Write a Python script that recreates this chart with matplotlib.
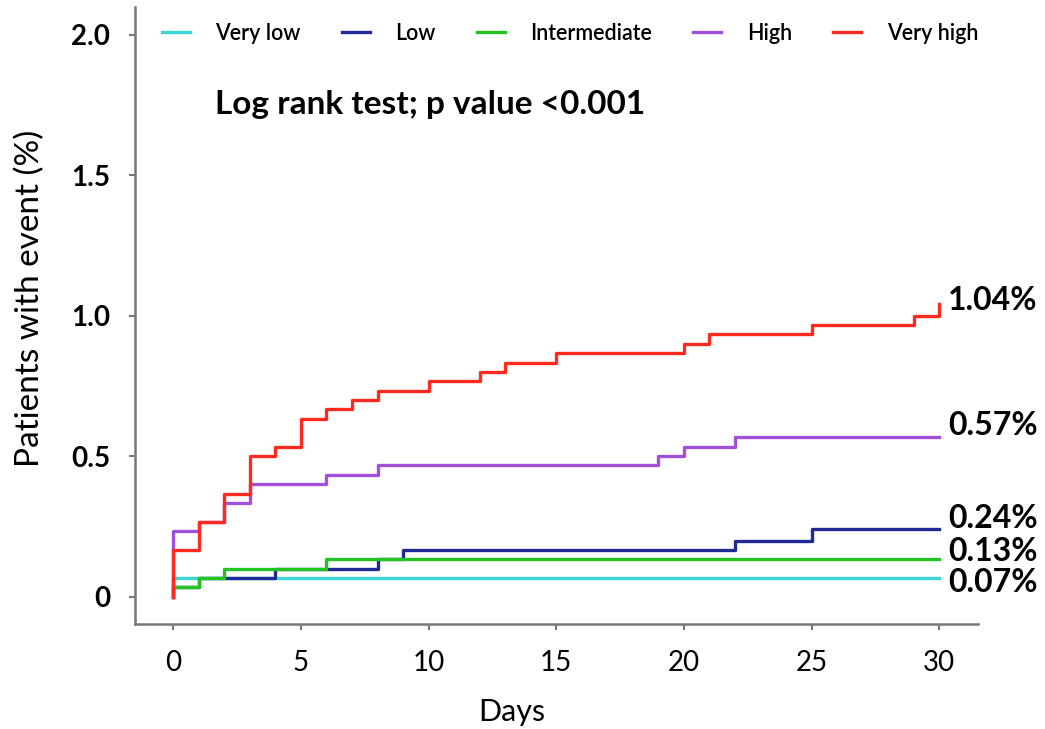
import matplotlib
matplotlib.use("Agg")
import matplotlib.pyplot as plt

plt.rcParams['font.family'] = ['Lato', 'DejaVu Sans']

# Kaplan-Meier style cumulative event curves (% of patients), step changes at these days
groups = ['Very low', 'Low', 'Intermediate', 'High', 'Very high']
colors = ['#3dd6d6', '#1f2a96', '#22c422', '#a24fdc', '#ff2a1f']

days_very_low = [0, 0, 30]
pct_very_low = [0, 0.067, 0.067]

days_low = [0, 0, 1, 4, 8, 9, 22, 25, 30]
pct_low = [0, 0.033, 0.067, 0.10, 0.133, 0.167, 0.20, 0.24, 0.24]

days_inter = [0, 0, 1, 2, 6, 30]
pct_inter = [0, 0.033, 0.067, 0.10, 0.133, 0.133]

days_high = [0, 0, 1, 2, 3, 6, 8, 19, 20, 22, 30]
pct_high = [0, 0.233, 0.267, 0.333, 0.40, 0.433, 0.467, 0.50, 0.533, 0.567, 0.567]

days_very_high = [0, 0, 1, 2, 3, 4, 5, 6, 7, 8, 10, 12, 13, 15, 20, 21, 25, 29, 30]
pct_very_high = [0, 0.167, 0.267, 0.367, 0.50, 0.533, 0.633, 0.667, 0.70, 0.733,
                 0.767, 0.80, 0.833, 0.867, 0.90, 0.933, 0.967, 1.00, 1.04]

end_labels = ['0.07%', '0.13%', '0.24%', '0.57%', '1.04%']
label_y = [0.05, 0.16, 0.28, 0.61, 1.055]

x_ticks = [0, 5, 10, 15, 20, 25, 30]
y_ticks = [0, 0.5, 1.0, 1.5, 2.0]
y_ticklabels = ['0', '0.5', '1.0', '1.5', '2.0']

curves = [(days_very_low, pct_very_low), (days_low, pct_low), (days_inter, pct_inter),
          (days_high, pct_high), (days_very_high, pct_very_high)]

fig = plt.figure(figsize=(10.45, 7.29), dpi=100)
ax = fig.add_axes([0.1292, 0.144, 0.8067, 0.846])

for (d, p), name, c in zip(curves, groups, colors):
    ax.step(d, p, where='post', color=c, lw=2.4, label=name)

for txt, yy in zip(end_labels, label_y):
    ax.text(30.35, yy, txt, fontsize=23, fontweight='bold', va='center', ha='left')

ax.text(0.095, 0.843, 'Log rank test; p value <0.001', transform=ax.transAxes,
        fontsize=24, fontweight='bold', va='center', ha='left')

ax.set_xlim(-1.5, 31.52)
ax.set_ylim(-0.097, 2.097)
ax.set_xticks(x_ticks)
ax.set_xticklabels([str(t) for t in x_ticks], fontsize=20)
ax.set_yticks(y_ticks)
ax.set_yticklabels(y_ticklabels, fontsize=20, fontweight='bold')
ax.tick_params(axis='both', length=4, width=1.5, color='#777777', pad=15)
ax.tick_params(axis='y', pad=14)
for s in ['top', 'right']:
    ax.spines[s].set_visible(False)
for s in ['left', 'bottom']:
    ax.spines[s].set_color('#777777')
    ax.spines[s].set_linewidth(1.8)

ax.set_xlabel('Days', fontsize=22)
ax.xaxis.set_label_coords(0.447, -0.12)
ax.set_ylabel('Patients with event (%)', fontsize=24)
ax.yaxis.set_label_coords(-0.107, 0.528)

leg = ax.legend(loc='center', bbox_to_anchor=(0.516, 0.958), ncol=5, frameon=False,
                fontsize=15.5, handlelength=1.3, handletextpad=1.2, columnspacing=1.9)
for t in leg.get_texts():
    t.set_fontweight('semibold')

fig.savefig('out.png', dpi=100)
